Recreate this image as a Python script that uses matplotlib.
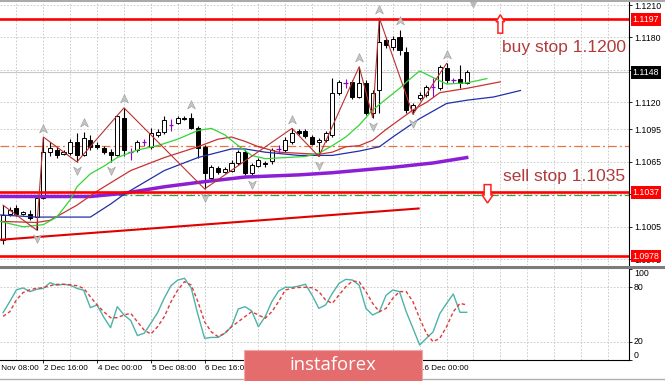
import matplotlib
matplotlib.use('Agg')
import matplotlib.pyplot as plt
import matplotlib.transforms as mtransforms
from matplotlib.path import Path
from matplotlib.patches import Polygon, Rectangle
from matplotlib.lines import Line2D
import numpy as np

plt.rcParams['font.family'] = ['Liberation Sans', 'DejaVu Sans']

# ---------------- data (EURUSD H4) ----------------
opens = [1.0993, 1.1017, 1.1022, 1.1017, 1.1017, 1.1014, 1.1032, 1.1074, 1.1076, 1.1072,
         1.1073, 1.1083, 1.1071, 1.1085, 1.1081, 1.1078, 1.1074, 1.1071, 1.1106, 1.1074,
         1.1076, 1.1083, 1.1079, 1.1090, 1.1093, 1.1099, 1.1101, 1.1106, 1.1106, 1.1096,
         1.1079, 1.1050, 1.1059, 1.1056, 1.1057, 1.1064, 1.1074, 1.1055, 1.1061, 1.1064,
         1.1066, 1.1077, 1.1076, 1.1083, 1.1094, 1.1094, 1.1088, 1.1083, 1.1085, 1.1090,
         1.1129, 1.1138, 1.1139, 1.1125, 1.1138, 1.1110, 1.1131, 1.1178, 1.1171, 1.1180,
         1.1167, 1.1113, 1.1124, 1.1127, 1.1134, 1.1133, 1.1152, 1.1141, 1.1142, 1.1138]
highs = [1.1025, 1.1023, 1.1025, 1.1020, 1.1021, 1.1034, 1.1088, 1.1083, 1.1079, 1.1076,
         1.1086, 1.1092, 1.1093, 1.1090, 1.1083, 1.1080, 1.1077, 1.1108, 1.1115, 1.1078,
         1.1085, 1.1086, 1.1096, 1.1095, 1.1107, 1.1105, 1.1107, 1.1107, 1.1110, 1.1098,
         1.1081, 1.1062, 1.1061, 1.1060, 1.1067, 1.1076, 1.1076, 1.1064, 1.1069, 1.1066,
         1.1078, 1.1081, 1.1088, 1.1096, 1.1095, 1.1095, 1.1090, 1.1087, 1.1094, 1.1143,
         1.1141, 1.1142, 1.1141, 1.1153, 1.1141, 1.1131, 1.1198, 1.1180, 1.1181, 1.1187,
         1.1171, 1.1119, 1.1130, 1.1136, 1.1143, 1.1155, 1.1156, 1.1143, 1.1155, 1.1150]
lows = [1.0989, 1.1015, 1.1015, 1.1016, 1.1011, 1.1002, 1.1031, 1.1070, 1.1069, 1.1071,
        1.1071, 1.1065, 1.1070, 1.1076, 1.1077, 1.1072, 1.1065, 1.1070, 1.1070, 1.1067,
        1.1074, 1.1080, 1.1077, 1.1088, 1.1091, 1.1094, 1.1100, 1.1104, 1.1095, 1.1069,
        1.1040, 1.1048, 1.1054, 1.1055, 1.1056, 1.1062, 1.1053, 1.1052, 1.1060, 1.1060,
        1.1063, 1.1073, 1.1074, 1.1082, 1.1090, 1.1087, 1.1081, 1.1070, 1.1083, 1.1088,
        1.1127, 1.1133, 1.1123, 1.1124, 1.1108, 1.1106, 1.1110, 1.1170, 1.1168, 1.1164,
        1.1110, 1.1109, 1.1122, 1.1125, 1.1125, 1.1131, 1.1138, 1.1138, 1.1133, 1.1137]
closes = [1.1016, 1.1021, 1.1017, 1.1019, 1.1013, 1.1032, 1.1074, 1.1078, 1.1071, 1.1074,
          1.1083, 1.1071, 1.1087, 1.1079, 1.1079, 1.1074, 1.1071, 1.1107, 1.1076, 1.1074,
          1.1083, 1.1083, 1.1092, 1.1093, 1.1104, 1.1099, 1.1106, 1.1105, 1.1096, 1.1078,
          1.1055, 1.1060, 1.1056, 1.1058, 1.1064, 1.1074, 1.1055, 1.1062, 1.1067, 1.1063,
          1.1076, 1.1077, 1.1085, 1.1092, 1.1092, 1.1089, 1.1082, 1.1085, 1.1092, 1.1129,
          1.1139, 1.1138, 1.1125, 1.1138, 1.1110, 1.1129, 1.1176, 1.1173, 1.1179, 1.1168,
          1.1113, 1.1118, 1.1127, 1.1134, 1.1134, 1.1153, 1.1141, 1.1141, 1.1138, 1.1148]

# moving averages (bar position, price)
ma_green_x = [-0.45, 3, 6, 8, 10, 11, 13, 15, 17, 20, 23, 26, 29, 31, 33, 35, 37, 39, 42, 45,
              47, 49, 51, 53, 55, 57, 59, 61, 62, 64, 66, 69, 72]
ma_green_y = [1.1010, 1.1005, 1.1007, 1.1014, 1.1030, 1.1042, 1.1054, 1.1061, 1.1069, 1.1076,
              1.1080, 1.1086, 1.1094, 1.1096, 1.1090, 1.1080, 1.1071, 1.1068, 1.1069, 1.1070,
              1.1073, 1.1080, 1.1088, 1.1099, 1.1113, 1.1123, 1.1133, 1.1144, 1.1149, 1.1143,
              1.1137, 1.1138, 1.1142]
ma_red_x = [-0.45, 5, 7, 9, 11, 14, 19, 24, 29, 32, 34, 36, 38, 41, 44, 47, 49, 51, 53, 55,
            57, 59, 61, 63, 65, 67, 69, 74]
ma_red_y = [1.1010, 1.1009, 1.1011, 1.1018, 1.1025, 1.1038, 1.1057, 1.1069, 1.1079, 1.1086,
            1.1088, 1.1084, 1.1079, 1.1074, 1.1073, 1.1072, 1.1074, 1.1079, 1.1080, 1.1085,
            1.1095, 1.1104, 1.1113, 1.1120, 1.1129, 1.1131, 1.1133, 1.1139]
ma_blue_x = [-0.45, 5, 10, 13, 16, 18, 21, 24, 29, 34, 36, 39, 44, 49, 53, 56, 58, 62, 66, 69,
             73, 77]
ma_blue_y = [1.1016, 1.1014, 1.1014, 1.1014, 1.1026, 1.1035, 1.1046, 1.1057, 1.1069, 1.1077,
             1.1077, 1.1074, 1.1071, 1.1071, 1.1075, 1.1079, 1.1088, 1.1105, 1.1119, 1.1122,
             1.1125, 1.1131]
ma_purple_x = [-0.45, 10, 13, 18, 24, 29, 36, 44, 49, 58, 64, 69]
ma_purple_y = [1.1033, 1.1033, 1.1033, 1.1036, 1.1042, 1.1046, 1.1051, 1.1053, 1.1055, 1.1060,
               1.1064, 1.1069]

zigzag_x = [0, 5, 6, 11, 18, 30, 43, 47, 53, 55, 56, 61, 66]
zigzag_y = [1.1025, 1.1002, 1.1088, 1.1065, 1.1115, 1.1040, 1.1096, 1.1070, 1.1153, 1.1106,
            1.1198, 1.1109, 1.1156]

fractal_up = [6, 12, 18, 28, 43, 53, 56, 59, 66]
fractal_down = [5, 11, 16, 30, 37, 47, 55, 61]

trend_x = [-0.45, 62]
trend_y = [1.0993, 1.1022]

levels_red = [1.1197, 1.1037, 1.0978]
level_orange = 1.1080
level_green = 1.1034
bid = 1.1148

buy_text, buy_anchor = 'buy stop 1.1200', (74.3, 1.1167)
sell_text, sell_anchor = 'sell stop 1.1035', (74.4, 1.1047)
buy_arrow_tip = (74.0, 1.1201)
sell_arrow_tip = (72.1, 1.1027)

price_ticks = [1.1210, 1.1180, 1.1150, 1.1120, 1.1095, 1.1065, 1.1035, 1.1005, 1.0975]
price_boxes = [(1.1197, '#ff0000'), (1.1148, '#000000'), (1.1037, '#ff0000'), (1.0978, '#ff0000')]

stoch_main = [52, 64, 77, 79, 75, 77.5, 78.6, 84.7, 82, 83,
              82, 78.5, 76.5, 57.5, 60.4, 47, 35.6, 58.5, 49.5, 43.5,
              27, 29.5, 40.5, 52, 68, 81.5, 87.6, 89.5, 79, 50,
              24, 25, 25, 29.5, 36.7, 56, 58.5, 54, 36.7, 47.6,
              64, 75.6, 79.7, 79.7, 81, 83, 71, 56.7, 60.4, 73,
              84, 88.4, 87.6, 82, 56.7, 49.5, 53, 71, 76.7, 75,
              53, 35, 16.7, 24, 31, 51, 62, 72.4, 52.4, 52.4]
stoch_signal = [48, 53, 66, 74, 77, 78.6, 79.2, 81.4, 82.9, 82.9,
                82.5, 81.4, 78.6, 69.4, 60.4, 53, 46.5, 46.5, 49.5, 51.3,
                42, 33, 28.7, 36.7, 47.6, 64, 76.7, 85.8, 82.2, 64,
                42, 31, 25.8, 29.5, 36.7, 42, 47.6, 53, 49.5, 45.8,
                53, 64, 76.7, 78.6, 79.5, 79.7, 79.2, 75, 65.8, 62.2,
                71.3, 80.3, 86.5, 85.8, 75, 62.2, 53, 56.7, 67.7, 75,
                75, 64, 45.8, 29.5, 20.3, 24, 36.7, 53, 62.2, 60.4]
stoch_levels = [20, 80]

# time labels visible in the reference (those under the watermark are hidden there)
time_idx = [-2, 6, 14, 22, 30, 62]
time_labels = ['29 Nov 08:00', '2 Dec 16:00', '4 Dec 00:00', '5 Dec 08:00', '6 Dec 16:00',
               '16 Dec 00:00']
time_tick_idx = [6, 14, 22, 30, 38, 46, 54, 62]

# ---------------- figure ----------------
W, H = 665, 381
fig = plt.figure(figsize=(W / 100, H / 100), dpi=100)
fig.patch.set_facecolor('white')


def fx(px):
    return px / W


def fy(py):
    return 1 - py / H


ax = fig.add_axes([0, fy(265), fx(629), (265 - 2) / H])
ax2 = fig.add_axes([0, fy(360.3), fx(629), (360.3 - 268.7) / H])

XL = (-0.45, 93.15)
GRID = dict(color='#c4c4c4', lw=0.6, dashes=(2, 2), zorder=0)

# ---- main panel ----
ax.set_xlim(*XL)
ax.set_ylim(1.09697, 1.12128)
for gx in range(2, 94, 4):
    ax.axvline(gx, **GRID)
for t in price_ticks:
    ax.axhline(t, **GRID)

o = np.array(opens); h = np.array(highs); l = np.array(lows); c = np.array(closes)
idx = np.arange(len(o))
doji = np.isclose(o, c)
bull = (c > o) & ~doji
bear = (c < o) & ~doji
wick_col = ['#9400d3' if d else 'black' for d in doji]
ax.vlines(idx, l, h, colors=wick_col, lw=0.8, zorder=3)
ax.bar(idx[bull], (c - o)[bull], bottom=o[bull], width=0.6, facecolor='white',
       edgecolor='black', lw=0.7, zorder=4)
ax.bar(idx[bear], (o - c)[bear], bottom=c[bear], width=0.6, facecolor='black',
       edgecolor='black', lw=0.7, zorder=4)
ax.hlines(o[doji], idx[doji] - 0.35, idx[doji] + 0.35, colors='#9400d3', lw=0.9, zorder=4)

# levels
ax.axhline(bid, color='#c8c8c8', lw=0.8, zorder=1)
ax.axhline(level_orange, color='#e8743b', lw=0.9, dashes=(7, 2.5, 1.5, 2.5), zorder=2)
ax.axhline(level_green, color='#3aa03a', lw=0.9, dashes=(7, 2.5, 1.5, 2.5), zorder=2)
for lv in levels_red:
    ax.axhline(lv, color='#ff0000', lw=1.9, zorder=6)
ax.plot(trend_x, trend_y, color='#e00000', lw=1.5, zorder=6, solid_capstyle='butt')

# moving averages
ax.plot(ma_purple_x, ma_purple_y, color='#8c1ed6', lw=2.5, zorder=5)
ax.plot(ma_blue_x, ma_blue_y, color='#2030a8', lw=0.9, zorder=5)
ax.plot(ma_red_x, ma_red_y, color='#c83232', lw=0.9, zorder=5)
ax.plot(ma_green_x, ma_green_y, color='#33d633', lw=0.9, zorder=5)
ax.plot(zigzag_x, zigzag_y, color='#b8312f', lw=0.8, zorder=6)

# fractal arrows
up_m = Path([(0, 1), (0.8, -0.7), (0, -0.2), (-0.8, -0.7), (0, 1)],
            [Path.MOVETO, Path.LINETO, Path.LINETO, Path.LINETO, Path.CLOSEPOLY])
dn_m = Path([(0, -1), (0.8, 0.7), (0, 0.2), (-0.8, 0.7), (0, -1)],
            [Path.MOVETO, Path.LINETO, Path.LINETO, Path.LINETO, Path.CLOSEPOLY])
off = 0.00078
ax.plot(fractal_up, h[fractal_up] + off, ls='none', marker=up_m, ms=7,
        mfc='#c6c6c6', mec='#a4a4a4', mew=0.5, zorder=7)
ax.plot(fractal_down, l[fractal_down] - off, ls='none', marker=dn_m, ms=7,
        mfc='#c6c6c6', mec='#a4a4a4', mew=0.5, zorder=7)

# chart shift marker
ax.plot([70], [1.12113], ls='none', marker='v', ms=4.5, color='#b8b8b8', clip_on=False, zorder=7)

# outline arrows
bx, by = buy_arrow_tip
buy_poly = [(bx, by), (bx + 0.63, by - 0.00065), (bx + 0.35, by - 0.00065),
            (bx + 0.35, by - 0.0017), (bx - 0.35, by - 0.0017), (bx - 0.35, by - 0.00065),
            (bx - 0.63, by - 0.00065)]
ax.add_patch(Polygon(buy_poly, closed=True, fc='white', ec='#ff2020', lw=1.1, zorder=8))
sx, sy = sell_arrow_tip
sell_poly = [(sx, sy), (sx + 0.82, sy + 0.00075), (sx + 0.5, sy + 0.00075),
             (sx + 0.5, sy + 0.0017), (sx - 0.5, sy + 0.0017), (sx - 0.5, sy + 0.00075),
             (sx - 0.82, sy + 0.00075)]
ax.add_patch(Polygon(sell_poly, closed=True, fc='white', ec='#ff2020', lw=1.1, zorder=8))

# text labels
ax.text(*buy_anchor, buy_text, color='#b23a3a', fontsize=12.5, ha='left', va='baseline', zorder=9)
ax.text(*sell_anchor, sell_text, color='#b23a3a', fontsize=12.5, ha='left', va='baseline', zorder=9)

# axis cosmetics
ax.set_yticks(price_ticks)
ax.set_yticklabels([f'{t:.4f}' for t in price_ticks])
ax.yaxis.tick_right()
ax.tick_params(axis='y', labelsize=6.3, length=2, pad=1.5, width=0.6)
ax.set_xticks([])
for s in ['left', 'top', 'bottom']:
    ax.spines[s].set_visible(False)
ax.spines['right'].set_linewidth(0.8)

btrans = mtransforms.blended_transform_factory(ax.transAxes, ax.transData)
for val, col in price_boxes:
    ax.text(1.0056, val, f'{val:.4f}', transform=btrans, ha='left', va='center',
            fontsize=6.3, color='white', clip_on=False, zorder=12,
            bbox=dict(boxstyle='square,pad=0.22', fc=col, ec='none'))

# ---- stochastic panel ----
ax2.set_xlim(*XL)
ax2.set_ylim(0, 100)
for gx in range(2, 94, 4):
    ax2.axvline(gx, **GRID)
for lv in stoch_levels:
    ax2.axhline(lv, **GRID)
ax2.plot(idx, stoch_main, color='#4db3a8', lw=1.0, zorder=3)
ax2.plot(idx, stoch_signal, color='#dd3b3b', lw=1.0, dashes=(2.5, 1.8), zorder=3)
ax2.yaxis.tick_right()
ax2.set_yticks([0, 20, 80, 100])
ax2.set_yticklabels(['0', '20', '80', '100'])
ax2.tick_params(axis='y', labelsize=6.3, length=2, pad=1.5, width=0.6)
for lab, va in zip(ax2.get_yticklabels(), ['bottom', 'center', 'center', 'top']):
    lab.set_va(va)
ax2.set_xticks(time_tick_idx)
ax2.set_xticklabels([])
ax2.tick_params(axis='x', length=2.5, width=0.6)
for s in ['left', 'top']:
    ax2.spines[s].set_visible(False)
ax2.spines['right'].set_linewidth(0.8)
ax2.spines['bottom'].set_linewidth(0.8)

ttrans = mtransforms.blended_transform_factory(ax2.transData, ax2.transAxes)
for ti, tl in zip(time_idx, time_labels):
    ax2.text(ti + 0.1, -0.085, tl, transform=ttrans, ha='left', va='center',
             fontsize=5.9, clip_on=False)

# frame lines
fig.add_artist(Line2D([0, 1], [fy(1), fy(1)], color='#a8a8a8', lw=1.4))
fig.add_artist(Line2D([0, 1], [fy(266.8), fy(266.8)], color='#7c7c7c', lw=2.2))
fig.add_artist(Line2D([0, 1], [fy(378.5), fy(378.5)], color='#b0b0b0', lw=1.0))

# watermark
fig.add_artist(Rectangle((fx(244), 0), fx(422) - fx(244), (381 - 350) / H,
                         transform=fig.transFigure, fc='#e46c6c', ec='#f2a8a8', lw=0.8,
                         zorder=20))
fig.text(fx(333), fy(365), 'instaforex', color='white', fontsize=13.3, ha='center',
         va='center', family=['Open Sans', 'DejaVu Sans'], zorder=21)

fig.savefig('out.png', dpi=100)
